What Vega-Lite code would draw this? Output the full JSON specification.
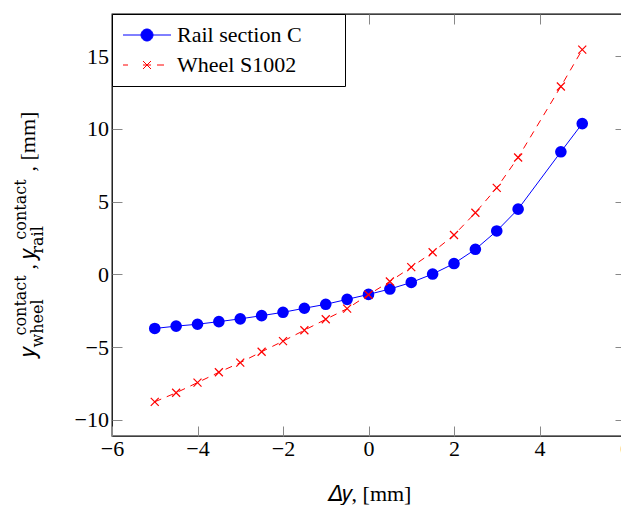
{
  "$schema": "https://vega.github.io/schema/vega-lite/v6.json",
  "width": 513,
  "height": 422,
  "autosize": "none",
  "padding": {"left": 112, "top": 14, "right": 0, "bottom": 69},
  "background": "white",
  "config": {"view": {"stroke": "black", "strokeWidth": 1.3}, "font": "Liberation Serif"},
  "data": {"values": [
    {"x": -5, "y": -3.71, "s": "Rail section C"},
    {"x": -4.5, "y": -3.55, "s": "Rail section C"},
    {"x": -4, "y": -3.42, "s": "Rail section C"},
    {"x": -3.5, "y": -3.24, "s": "Rail section C"},
    {"x": -3, "y": -3.05, "s": "Rail section C"},
    {"x": -2.5, "y": -2.83, "s": "Rail section C"},
    {"x": -2, "y": -2.6, "s": "Rail section C"},
    {"x": -1.5, "y": -2.32, "s": "Rail section C"},
    {"x": -1, "y": -2.05, "s": "Rail section C"},
    {"x": -0.5, "y": -1.71, "s": "Rail section C"},
    {"x": 0, "y": -1.37, "s": "Rail section C"},
    {"x": 0.5, "y": -1.0, "s": "Rail section C"},
    {"x": 1, "y": -0.55, "s": "Rail section C"},
    {"x": 1.5, "y": 0.03, "s": "Rail section C"},
    {"x": 2, "y": 0.75, "s": "Rail section C"},
    {"x": 2.5, "y": 1.73, "s": "Rail section C"},
    {"x": 3, "y": 2.99, "s": "Rail section C"},
    {"x": 3.5, "y": 4.49, "s": "Rail section C"},
    {"x": 4.5, "y": 8.43, "s": "Rail section C"},
    {"x": 5, "y": 10.37, "s": "Rail section C"},
    {"x": -5, "y": -8.75, "s": "Wheel S1002"},
    {"x": -4.5, "y": -8.13, "s": "Wheel S1002"},
    {"x": -4, "y": -7.43, "s": "Wheel S1002"},
    {"x": -3.5, "y": -6.72, "s": "Wheel S1002"},
    {"x": -3, "y": -6.06, "s": "Wheel S1002"},
    {"x": -2.5, "y": -5.31, "s": "Wheel S1002"},
    {"x": -2, "y": -4.58, "s": "Wheel S1002"},
    {"x": -1.5, "y": -3.83, "s": "Wheel S1002"},
    {"x": -1, "y": -3.08, "s": "Wheel S1002"},
    {"x": -0.5, "y": -2.35, "s": "Wheel S1002"},
    {"x": 0, "y": -1.39, "s": "Wheel S1002"},
    {"x": 0.5, "y": -0.48, "s": "Wheel S1002"},
    {"x": 1, "y": 0.5, "s": "Wheel S1002"},
    {"x": 1.5, "y": 1.53, "s": "Wheel S1002"},
    {"x": 2, "y": 2.71, "s": "Wheel S1002"},
    {"x": 2.5, "y": 4.24, "s": "Wheel S1002"},
    {"x": 3, "y": 5.95, "s": "Wheel S1002"},
    {"x": 3.5, "y": 8.04, "s": "Wheel S1002"},
    {"x": 4.5, "y": 12.92, "s": "Wheel S1002"},
    {"x": 5, "y": 15.45, "s": "Wheel S1002"}
  ]},
  "layer": [
    {
      "transform": [{"filter": "datum.s === 'Rail section C'"}],
      "mark": {"type": "line", "strokeWidth": 1},
      "encoding": {
        "x": {"field": "x", "type": "quantitative", "scale": {"domain": [-6, 6], "nice": false, "zero": false},
          "axis": {"orient": "bottom", "values": [-6, -4, -2, 0, 2, 4, 6], "domain": false, "grid": false,
            "tickSize": -10, "tickColor": "#888", "tickWidth": 1, "labelFont": "Liberation Serif", "labelFontSize": 22,
            "labelColor": "black", "labelBaseline": "alphabetic", "labelPadding": 29.5, "labelFlush": false, "labelOverlap": false,
            "title": "𝛥𝑦, [mm]", "titleFont": "Liberation Serif", "titleFontSize": 22, "titleFontWeight": "normal",
            "titleColor": "black", "titleBaseline": "alphabetic", "titleAlign": "center", "titleX": 256.5, "titleY": 64}},
        "y": {"field": "y", "type": "quantitative", "scale": {"domain": [-11.1, 17.9], "nice": false, "zero": false},
          "axis": {"orient": "left", "values": [-10, -5, 0, 5, 10, 15], "domain": false, "grid": false,
            "tickSize": -10, "tickColor": "#888", "tickWidth": 1, "labelFont": "Liberation Serif", "labelFontSize": 22,
            "labelColor": "black", "labelBaseline": "middle", "labelPadding": 13.5, "labelFlush": false, "labelOverlap": false,
            "title": "𝑦\u00a0\u00a0\u00a0\u00a0\u00a0\u00a0\u00a0\u00a0\u00a0\u00a0\u00a0\u00a0\u00a0\u00a0, 𝑦\u00a0\u00a0\u00a0\u00a0\u00a0\u00a0\u00a0\u00a0\u00a0\u00a0\u00a0\u00a0\u00a0\u00a0, [mm]",
            "titleFont": "Liberation Serif", "titleFontSize": 22,
            "titleFontWeight": "normal", "titleColor": "black", "titleAngle": -90, "titleAlign": "left",
            "titleBaseline": "alphabetic", "titleX": -78, "titleY": 342}},
        "color": {"field": "s", "type": "nominal",
          "scale": {"domain": ["Rail section C", "Wheel S1002"], "range": ["blue", "red"]},
          "legend": {"orient": "top-left", "offset": 0, "title": null, "padding": 10,
            "strokeColor": "black", "fillColor": "white", "cornerRadius": 0,
            "labelFont": "Liberation Serif", "labelFontSize": 22, "labelColor": "black", "labelLimit": 400,
            "labelExpr": "datum.label + '\u00a0\u00a0\u00a0\u00a0\u00a0\u00a0\u200b'",
            "symbolSize": 400, "symbolStrokeWidth": 1, "labelOffset": 33, "rowPadding": 8,
            "encode": {"symbols": {"update": {
              "shape": {"signal": "datum.value === 'Rail section C' ? 'M-1,0L3.8,0M0.8,0A0.6,0.6,0,1,1,2,0A0.6,0.6,0,1,1,0.8,0Z' : 'M-1,0L-0.5,0M1,0L1.8,0M2.4,0L3.1,0M1,-0.4L1.8,0.4M1,0.4L1.8,-0.4'"},
              "fill": {"signal": "datum.value === 'Rail section C' ? 'blue' : 'transparent'"},
              "stroke": {"signal": "datum.value === 'Rail section C' ? 'blue' : 'red'"},
              "strokeWidth": {"value": 1},
              "opacity": {"value": 1}
            }}}}}
      }
    },
    {
      "transform": [{"filter": "datum.s === 'Rail section C'"}],
      "mark": {"type": "point", "shape": "circle", "filled": true, "size": 135, "color": "blue", "opacity": 1},
      "encoding": {
        "x": {"field": "x", "type": "quantitative",
          "axis": {"orient": "top", "values": [-6, -4, -2, 0, 2, 4, 6], "domain": false, "grid": false, "labels": false,
            "tickSize": -10, "tickColor": "#888", "tickWidth": 1,
            "title": "wheel\u00a0\u00a0\u00a0\u00a0\u00a0\u00a0\u00a0\u00a0\u00a0rail", "titleFont": "DejaVu Serif", "titleFontSize": 16, "titleFontWeight": "normal",
            "titleColor": "black", "titleAngle": -90, "titleAlign": "left", "titleBaseline": "alphabetic",
            "titleX": -70, "titleY": 333}},
        "y": {"field": "y", "type": "quantitative",
          "axis": {"orient": "right", "values": [-10, -5, 0, 5, 10, 15], "domain": false, "grid": false, "labels": false,
            "tickSize": -10, "tickColor": "#888", "tickWidth": 1,
            "title": "contact\u00a0\u00a0\u00a0\u00a0\u00a0\u00a0\u00a0contact", "titleFont": "DejaVu Serif", "titleFontSize": 16, "titleFontWeight": "normal",
            "titleColor": "black", "titleAngle": -90, "titleAlign": "left", "titleBaseline": "alphabetic",
            "titleX": -600, "titleY": 321}}
      }
    },
    {
      "transform": [{"filter": "datum.s === 'Wheel S1002'"}],
      "mark": {"type": "line", "strokeWidth": 1, "color": "red", "strokeDash": [7, 6]},
      "encoding": {
        "x": {"field": "x", "type": "quantitative", "axis": null},
        "y": {"field": "y", "type": "quantitative", "axis": null}
      }
    },
    {
      "transform": [{"filter": "datum.s === 'Wheel S1002'"}],
      "mark": {"type": "point", "shape": "M-1,-1L1,1M-1,1L1,-1", "filled": false, "size": 64, "color": "red", "strokeWidth": 1.2, "opacity": 1},
      "encoding": {
        "x": {"field": "x", "type": "quantitative", "axis": null},
        "y": {"field": "y", "type": "quantitative", "axis": null}
      }
    }
  ],
  "resolve": {"axis": {"x": "independent", "y": "independent"}}
}
